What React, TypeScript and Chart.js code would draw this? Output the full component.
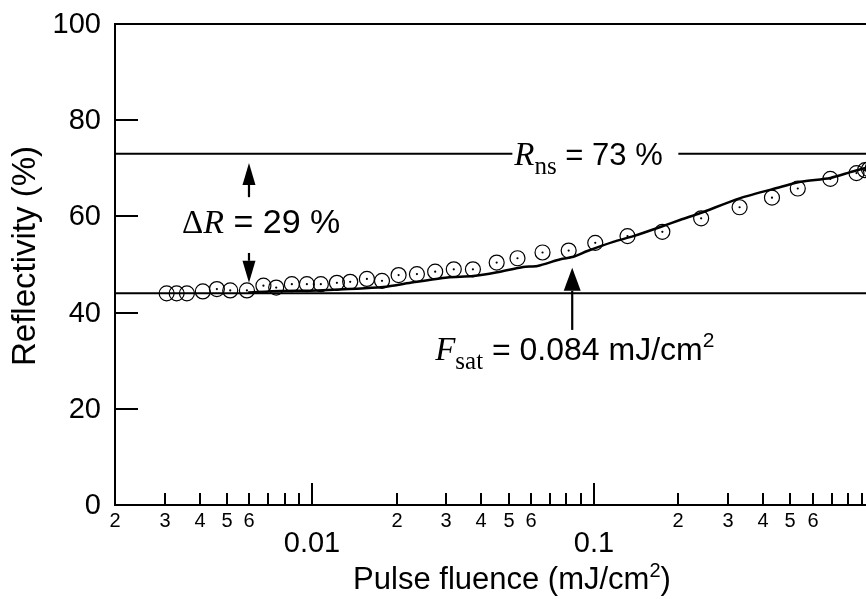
import React, { useEffect, useRef } from "react";
import { Chart, registerables } from "chart.js";

Chart.register(...registerables);

// ---- data ----
const CIRCLE_X = [
  0.00305, 0.00331, 0.0036, 0.0041, 0.0046, 0.00513, 0.00588, 0.00673, 0.00747, 0.00849,
  0.0096, 0.01076, 0.01227, 0.01368, 0.01568, 0.01774, 0.02032, 0.0236, 0.0274, 0.0319,
  0.0373, 0.0453, 0.0537, 0.0659, 0.0816, 0.1014, 0.132, 0.1755, 0.241, 0.33,
  0.43, 0.531, 0.693, 0.858, 0.92, 0.95, 0.98, 1.0,
];
const CIRCLE_Y = [
  44.0, 44.0, 44.0, 44.4, 44.9, 44.6, 44.6, 45.6, 45.2, 45.9,
  45.9, 45.9, 46.2, 46.4, 47.0, 46.6, 47.8, 48.0, 48.5, 49.0,
  49.0, 50.4, 51.3, 52.5, 52.9, 54.5, 55.9, 56.8, 59.6, 61.9,
  63.9, 65.8, 67.8, 69.0, 69.6, 69.8, 70.0, 70.1,
];
const DOT_FROM_INDEX = 4;

const CURVE_X = [
  0.00594, 0.00771, 0.01044, 0.0179, 0.0229, 0.0303, 0.0374, 0.0455, 0.0563, 0.0632,
  0.0763, 0.0848, 0.0951, 0.1175, 0.1385, 0.1727, 0.2037, 0.2396, 0.332, 0.461,
  0.543, 0.693, 0.817, 0.931, 1.0,
];
const CURVE_Y = [
  44.2, 44.5, 44.6, 45.3, 46.3, 47.3, 47.6, 48.4, 49.5, 49.7,
  51.1, 51.6, 52.8, 54.7, 55.9, 57.8, 59.3, 60.7, 63.8, 66.1,
  67.2, 68.0, 69.2, 70.1, 70.3,
];

const R_NS = 73;
const R_LOW = 44;
const F_SAT = 0.084;
const RNS_GAP = [0.0515, 0.2];

const X_MIN = 0.002;
const X_MAX = 2;
const Y_MIN = 0;
const Y_MAX = 100;
const Y_STEP = 20;

const X_TICK_VALUES = [
  0.002, 0.003, 0.004, 0.005, 0.006, 0.007, 0.008, 0.009,
  0.01, 0.02, 0.03, 0.04, 0.05, 0.06, 0.07, 0.08, 0.09,
  0.1, 0.2, 0.3, 0.4, 0.5, 0.6, 0.7, 0.8, 0.9,
  1, 2,
];
const X_TICK_LABELS = [
  "2", "3", "4", "5", "6", "", "", "",
  "0.01", "2", "3", "4", "5", "6", "", "", "",
  "0.1", "2", "3", "4", "5", "6", "", "", "",
  "1", "2",
];
const X_MAJOR = [0.01, 0.1, 1];

const X_TITLE = "Pulse fluence (mJ/cm";
const Y_TITLE = "Reflectivity (%)";

const SANS = '"Liberation Sans", Arial, Helvetica, sans-serif';
const SERIF = '"Liberation Serif", "Times New Roman", Times, serif';

type Run = { text: string; font: string; dy?: number };

function runsWidth(ctx: CanvasRenderingContext2D, runs: Run[]) {
  let w = 0;
  for (const r of runs) {
    ctx.font = r.font;
    w += ctx.measureText(r.text).width;
  }
  return w;
}

function drawRuns(ctx: CanvasRenderingContext2D, x: number, y: number, runs: Run[]) {
  let cx = x;
  for (const r of runs) {
    ctx.font = r.font;
    ctx.fillText(r.text, cx, y + (r.dy || 0));
    cx += ctx.measureText(r.text).width;
  }
}

function drawArrow(ctx: CanvasRenderingContext2D, x: number, yFrom: number, yTip: number, headLen: number, headW: number) {
  const dir = yTip < yFrom ? -1 : 1;
  const base = yTip - dir * headLen;
  ctx.beginPath();
  ctx.moveTo(x, yFrom);
  ctx.lineTo(x, base);
  ctx.lineWidth = 2.2;
  ctx.stroke();
  ctx.beginPath();
  ctx.moveTo(x, yTip);
  ctx.lineTo(x - headW / 2, base);
  ctx.lineTo(x + headW / 2, base);
  ctx.closePath();
  ctx.fill();
}

const decorPlugin = {
  id: "decor",
  afterDraw(chart: any) {
    const ctx: CanvasRenderingContext2D = chart.ctx;
    const { left, right, top, bottom } = chart.chartArea;
    const xs = chart.scales.x;
    const ys = chart.scales.y;
    ctx.save();
    ctx.strokeStyle = "#000";
    ctx.fillStyle = "#000";
    ctx.lineWidth = 2;
    ctx.strokeRect(left, top, right - left, bottom - top);

    // y ticks (inward) + labels
    ctx.textAlign = "right";
    ctx.textBaseline = "middle";
    ctx.font = `29px ${SANS}`;
    for (const t of ys.ticks) {
      const py = Math.round(ys.getPixelForValue(t.value));
      ctx.beginPath();
      ctx.moveTo(left, py);
      ctx.lineTo(left + 23, py);
      ctx.stroke();
      ctx.fillText(String(t.value), left - 14, py + 1);
    }

    // x ticks (inward) and labels
    ctx.textAlign = "center";
    ctx.textBaseline = "alphabetic";
    xs.ticks.forEach((t: any, i: number) => {
      const px = Math.round(xs.getPixelForValue(t.value));
      const major = X_MAJOR.some((m) => Math.abs(m - t.value) < 1e-9);
      ctx.beginPath();
      ctx.moveTo(px, bottom);
      ctx.lineTo(px, bottom - (major ? 22 : 12));
      ctx.lineWidth = 2;
      ctx.stroke();
      const lab = X_TICK_LABELS[i] || "";
      if (!lab) return;
      if (major) {
        ctx.font = `29px ${SANS}`;
        ctx.fillText(lab, px, bottom + 47);
      } else {
        ctx.font = `20px ${SANS}`;
        ctx.fillText(lab, px, bottom + 22);
      }
    });

    // x title
    const xRuns: Run[] = [
      { text: X_TITLE, font: `31px ${SANS}` },
      { text: "2", font: `20px ${SANS}`, dy: -12 },
      { text: ")", font: `31px ${SANS}` },
    ];
    ctx.textAlign = "left";
    const xw = runsWidth(ctx, xRuns);
    drawRuns(ctx, 512 - xw / 2, 589, xRuns);

    // y title
    ctx.save();
    ctx.translate(26, 256);
    ctx.rotate(-Math.PI / 2);
    ctx.font = `33px ${SANS}`;
    ctx.textAlign = "center";
    ctx.textBaseline = "middle";
    ctx.fillText(Y_TITLE, 0, 0);
    ctx.restore();

    // annotations
    ctx.textAlign = "left";
    ctx.textBaseline = "alphabetic";
    const yRns = ys.getPixelForValue(R_NS);
    drawRuns(ctx, xs.getPixelForValue(RNS_GAP[0]) + 2, yRns + 11, [
      { text: "R", font: `italic 33px ${SERIF}` },
      { text: "ns", font: `25px ${SERIF}`, dy: 9 },
      { text: " = 73 %", font: `31px ${SANS}` },
    ]);

    drawRuns(ctx, xs.getPixelForValue(0.00346), ys.getPixelForValue(56.5), [
      { text: "\u0394", font: `33px ${SERIF}` },
      { text: "R", font: `italic 34px ${SERIF}` },
      { text: " = 29 %", font: `34px ${SANS}` },
    ]);

    drawRuns(ctx, xs.getPixelForValue(0.0274), ys.getPixelForValue(30.1), [
      { text: "F", font: `italic 33px ${SERIF}` },
      { text: "sat", font: `25px ${SERIF}`, dy: 9 },
      { text: " = 0.084 mJ/cm", font: `32px ${SANS}` },
      { text: "2", font: `21px ${SANS}`, dy: -13 },
    ]);

    // arrows
    const ax = xs.getPixelForValue(0.00598);
    drawArrow(ctx, ax, ys.getPixelForValue(64.0), ys.getPixelForValue(71.1), 22, 13);
    drawArrow(ctx, ax, ys.getPixelForValue(52.4), ys.getPixelForValue(46.2), 22, 13);
    const fx = xs.getPixelForValue(F_SAT);
    drawArrow(ctx, fx, ys.getPixelForValue(36.4), ys.getPixelForValue(49.3), 23, 17);

    ctx.restore();
  },
};

export default function App() {
  const ref = useRef<HTMLCanvasElement | null>(null);

  useEffect(() => {
    if (!ref.current) return;
    const circles = CIRCLE_X.map((x, i) => ({ x, y: CIRCLE_Y[i] }));
    const dots = circles.slice(DOT_FROM_INDEX);
    const curve = CURVE_X.map((x, i) => ({ x, y: CURVE_Y[i] }));

    const chart = new Chart(ref.current, {
      type: "scatter",
      data: {
        datasets: [
          {
            data: curve,
            showLine: true,
            borderColor: "#000",
            borderWidth: 2.5,
            pointRadius: 0,
            tension: 0.25,
          },
          {
            data: circles,
            pointStyle: "circle",
            pointRadius: 7.5,
            pointBorderWidth: 1.2,
            pointBorderColor: "#000",
            pointBackgroundColor: "rgba(0,0,0,0)",
            showLine: false,
          },
          {
            data: dots,
            pointRadius: 1.1,
            pointBorderWidth: 0,
            pointBackgroundColor: "#000",
            showLine: false,
          },
          {
            data: [
              { x: X_MIN, y: R_LOW },
              { x: X_MAX, y: R_LOW },
            ],
            showLine: true,
            borderColor: "#000",
            borderWidth: 2,
            pointRadius: 0,
          },
          {
            data: [
              { x: X_MIN, y: R_NS },
              { x: RNS_GAP[0], y: R_NS },
            ],
            showLine: true,
            borderColor: "#000",
            borderWidth: 2,
            pointRadius: 0,
          },
          {
            data: [
              { x: RNS_GAP[1], y: R_NS },
              { x: X_MAX, y: R_NS },
            ],
            showLine: true,
            borderColor: "#000",
            borderWidth: 2,
            pointRadius: 0,
          },
        ],
      },
      options: {
        animation: false,
        responsive: false,
        events: [],
        layout: { padding: { left: 0, top: 24, right: 40, bottom: 0 } },
        plugins: { legend: { display: false }, tooltip: { enabled: false }, title: { display: false } },
        scales: {
          x: {
            type: "logarithmic",
            min: X_MIN,
            max: X_MAX,
            grid: { display: false, drawTicks: false },
            border: { display: false },
            ticks: { display: false },
            afterBuildTicks: (scale: any) => {
              scale.ticks = X_TICK_VALUES.map((v) => ({ value: v }));
            },
            afterFit: (scale: any) => {
              scale.height = 94;
            },
          },
          y: {
            type: "linear",
            min: Y_MIN,
            max: Y_MAX,
            grid: { display: false, drawTicks: false },
            border: { display: false },
            ticks: { display: false, stepSize: Y_STEP, padding: 0 },
            afterFit: (scale: any) => {
              scale.width = 115;
            },
          },
        },
      } as any,
      plugins: [decorPlugin],
    });
    return () => chart.destroy();
  }, []);

  return (
    <div
      style={{
        position: "fixed",
        left: 0,
        top: 0,
        width: 866,
        height: 599,
        overflow: "hidden",
        background: "#fff",
      }}
    >
      <canvas ref={ref} width={1000} height={599} style={{ display: "block" }} />
    </div>
  );
}
